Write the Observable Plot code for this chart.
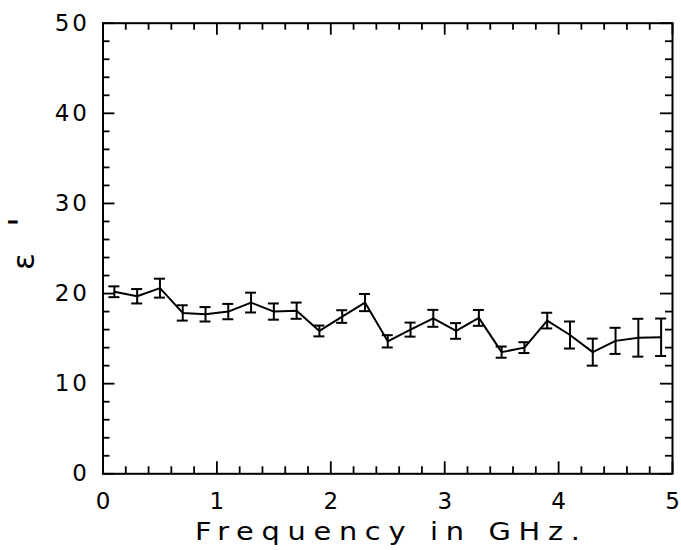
<!DOCTYPE html>
<html>
<head>
<meta charset="utf-8">
<script src="https://cdn.jsdelivr.net/npm/d3@7"></script>
<script src="https://cdn.jsdelivr.net/npm/@observablehq/plot@0.6"></script>
<style>
  html, body { margin: 0; padding: 0; background: white; }
  #chart { width: 681px; height: 550px; }
</style>
</head>
<body>
<div id="chart"></div>
<script>
// Frequency (GHz)
const freq = [0.1, 0.3, 0.5, 0.7, 0.9, 1.1, 1.3, 1.5, 1.7, 1.9, 2.1, 2.3, 2.5,
              2.7, 2.9, 3.1, 3.3, 3.5, 3.7, 3.9, 4.1, 4.3, 4.5, 4.7, 4.9];
// epsilon' values
const epsPrime = [20.2, 19.7, 20.6, 17.85, 17.7, 18.0, 19.0, 18.0, 18.1, 15.85, 17.45, 19.0, 14.7,
                  16.0, 17.25, 15.85, 17.3, 13.5, 14.0, 17.0, 15.4, 13.5, 14.75, 15.1, 15.15];
// error bar half-widths
const epsErr = [0.6, 0.8, 1.05, 0.85, 0.8, 0.85, 1.1, 0.9, 0.9, 0.6, 0.7, 0.95, 0.68,
                0.78, 0.94, 0.87, 0.88, 0.62, 0.6, 0.87, 1.5, 1.5, 1.45, 2.1, 2.08];

const xMajorTicks = [0, 1, 2, 3, 4, 5];
const xMinorTicks = [0.2, 0.4, 0.6, 0.8, 1.2, 1.4, 1.6, 1.8, 2.2, 2.4, 2.6, 2.8,
                     3.2, 3.4, 3.6, 3.8, 4.2, 4.4, 4.6, 4.8];
const yMajorTicks = [0, 10, 20, 30, 40, 50];
const yMinorTicks = [2, 4, 6, 8, 12, 14, 16, 18, 22, 24, 26, 28, 32, 34, 36, 38, 42, 44, 46, 48];

const xLabel = "Frequency in GHz.";
const yLabelMain = "ε";
const yLabelPrime = "'";

const data = freq.map((f, i) => ({f, e: epsPrime[i], s: epsErr[i]}));

const W = 681, H = 550;
const mL = 102.5, mR = 9, mT = 22.7, mB = 76.7;
const innerW = W - mL - mR, innerH = H - mT - mB;
const minorLen = 7, majorLen = 12;
const capHalf = 5.5 / innerW * 5; // half cap width in data units

const chart = Plot.plot({
  width: W, height: H,
  marginLeft: mL, marginRight: mR, marginTop: mT, marginBottom: mB,
  x: {domain: [0, 5]},
  y: {domain: [0, 50]},
  style: {fontFamily: "DejaVu Sans", background: "white", color: "black", overflow: "visible"},
  marks: [
    Plot.tickX(xMinorTicks, {x: d => d, insetTop: innerH - minorLen, strokeWidth: 1.8}),
    Plot.tickX(xMinorTicks, {x: d => d, insetBottom: innerH - minorLen, strokeWidth: 1.8}),
    Plot.tickX(xMajorTicks, {x: d => d, insetTop: innerH - majorLen, strokeWidth: 1.8}),
    Plot.tickX(xMajorTicks, {x: d => d, insetBottom: innerH - majorLen, strokeWidth: 1.8}),
    Plot.tickY(yMinorTicks, {y: d => d, insetRight: innerW - minorLen, strokeWidth: 1.8}),
    Plot.tickY(yMinorTicks, {y: d => d, insetLeft: innerW - minorLen, strokeWidth: 1.8}),
    Plot.tickY(yMajorTicks, {y: d => d, insetRight: innerW - majorLen, strokeWidth: 1.8}),
    Plot.tickY(yMajorTicks, {y: d => d, insetLeft: innerW - majorLen, strokeWidth: 1.8}),
    Plot.frame({stroke: "black", strokeWidth: 2}),
    Plot.axisX(xMajorTicks, {tickSize: 0, tickPadding: 19, fontSize: 23, label: null, tickFormat: d => String(d)}),
    Plot.axisY(yMajorTicks, {tickSize: 0, tickPadding: 13, fontSize: 23, label: null, tickFormat: d => String(d)}),
    Plot.line(data, {x: "f", y: "e", stroke: "black", strokeWidth: 2}),
    Plot.ruleX(data, {x: "f", y1: d => d.e - d.s, y2: d => d.e + d.s, stroke: "black", strokeWidth: 2}),
    Plot.ruleY(data, {y: d => d.e - d.s, x1: d => d.f - capHalf, x2: d => d.f + capHalf, stroke: "black", strokeWidth: 2}),
    Plot.ruleY(data, {y: d => d.e + d.s, x1: d => d.f - capHalf, x2: d => d.f + capHalf, stroke: "black", strokeWidth: 2})
  ]
});

const svg = d3.select(chart);
svg.selectAll('g[aria-label="y-axis tick label"] text').attr("letter-spacing", 3);

// x-axis title (slightly widened glyphs like the plotter font)
svg.append("text")
  .attr("transform", "translate(195,540) scale(1.2,1)")
  .attr("x", 0).attr("y", 0)
  .attr("text-anchor", "start")
  .attr("font-family", "DejaVu Sans").attr("font-size", 24)
  .attr("fill", "black")
  .attr("textLength", 385 / 1.2).attr("lengthAdjust", "spacing")
  .text(xLabel);
// y-axis title (rotated epsilon with prime)
const yl = svg.append("text")
  .attr("transform", "translate(34,270) rotate(-90)")
  .attr("text-anchor", "start")
  .attr("font-family", "DejaVu Sans").attr("fill", "black");
yl.append("tspan").attr("x", 0).attr("y", 0).attr("font-size", 31).text(yLabelMain);
yl.append("tspan").attr("x", 43).attr("y", 0).attr("font-size", 36).text(yLabelPrime);

document.getElementById("chart").appendChild(chart);
</script>
</body>
</html>
